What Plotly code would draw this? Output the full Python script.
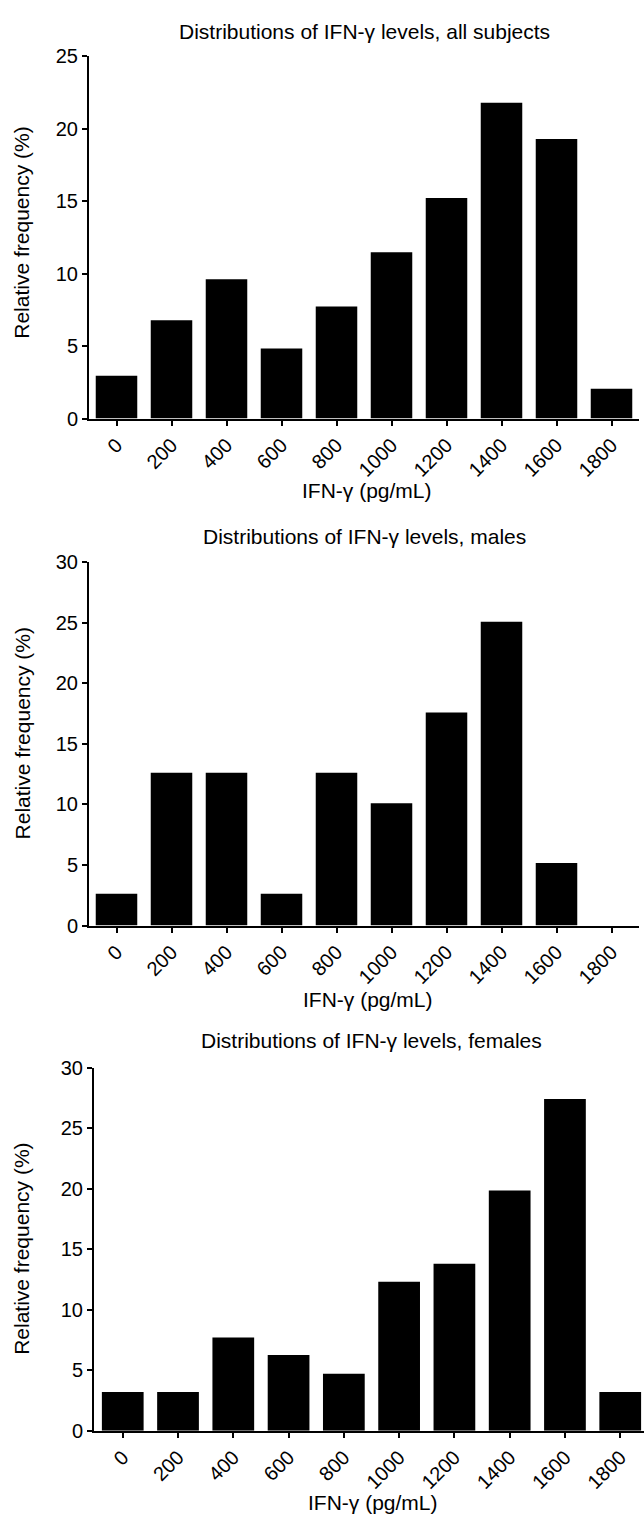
import plotly.graph_objects as go

categories = ["0", "200", "400", "600", "800", "1000", "1200", "1400", "1600", "1800"]
all_subjects = [2.95, 6.78, 9.62, 4.84, 7.74, 11.47, 15.22, 21.8, 19.3, 2.05]
males = [2.62, 12.6, 12.6, 2.62, 12.6, 10.1, 17.57, 25.06, 5.16, 0]
females = [3.2, 3.2, 7.7, 6.25, 4.71, 12.3, 13.8, 19.85, 27.4, 3.2]

titles = ["Distributions of IFN-γ levels, all subjects",
          "Distributions of IFN-γ levels, males",
          "Distributions of IFN-γ levels, females"]
x_title = "IFN-γ (pg/mL)"
y_title = "Relative frequency (%)"

W, H = 644, 1524
FONT = "Liberation Sans, Arial, sans-serif"

# pixel layout per panel: (left, right, top, bottom)
panels = [
    dict(l=89, r=639, t=46, b=413.5, ymax=25, xr=[-0.5, 9.5]),
    dict(l=89, r=639, t=559, b=928, ymax=30, xr=[-0.5, 9.5]),
    dict(l=94, r=644, t=1072, b=1440.5, ymax=30, xr=[-0.52, 9.43]),
]
series = [all_subjects, males, females]

fig = go.Figure()
for i, (p, vals) in enumerate(zip(panels, series), start=1):
    xa = "x" if i == 1 else f"x{i}"
    ya = "y" if i == 1 else f"y{i}"
    fig.add_trace(go.Bar(x=categories, y=vals, xaxis=xa, yaxis=ya,
                         marker=dict(color="black", line=dict(width=0)),
                         showlegend=False, hoverinfo="x+y"))
    axis_common = dict(showgrid=False, zeroline=False, showline=True,
                       linecolor="black", linewidth=2, ticks="outside",
                       tickwidth=2, tickcolor="black", ticklen=5,
                       tickfont=dict(family=FONT, size=20, color="black"))
    xkey = "xaxis" if i == 1 else f"xaxis{i}"
    ykey = "yaxis" if i == 1 else f"yaxis{i}"
    fig.update_layout(**{
        xkey: dict(domain=[p["l"] / W, min(p["r"] / W, 1.0)], anchor=ya,
                   type="category", range=p["xr"], tickangle=-45,
                   **axis_common),
        ykey: dict(domain=[1 - p["b"] / H, 1 - p["t"] / H], anchor=xa,
                   range=[0, p["ymax"]], tick0=0, dtick=5,
                   **axis_common),
    })

ann = []
title_pos = [(364, 21), (364, 533), (371, 1045)]
xt_pos = [(367, 487), (368, 1003), (373, 1513)]
yt_pos = [(22, 225), (22, 733), (22, 1256)]
for t, (tx, ty), (xx, xy), (yx, yy) in zip(titles, title_pos, xt_pos, yt_pos):
    ann.append(dict(text=t, x=tx / W, y=1 - ty / H, xref="paper", yref="paper",
                    showarrow=False, xanchor="center", yanchor="middle",
                    font=dict(family=FONT, size=21, color="black")))
    ann.append(dict(text=x_title, x=xx / W, y=1 - xy / H, xref="paper", yref="paper",
                    showarrow=False, xanchor="center", yanchor="middle",
                    font=dict(family=FONT, size=21, color="black")))
    ann.append(dict(text=y_title, x=yx / W, y=1 - yy / H, xref="paper", yref="paper",
                    showarrow=False, xanchor="center", yanchor="middle", textangle=-90,
                    font=dict(family=FONT, size=21, color="black")))

fig.update_layout(width=W, height=H, margin=dict(l=0, r=0, t=0, b=0),
                  paper_bgcolor="white", plot_bgcolor="white",
                  bargap=0.245, annotations=ann)

fig.write_html("out.html")
